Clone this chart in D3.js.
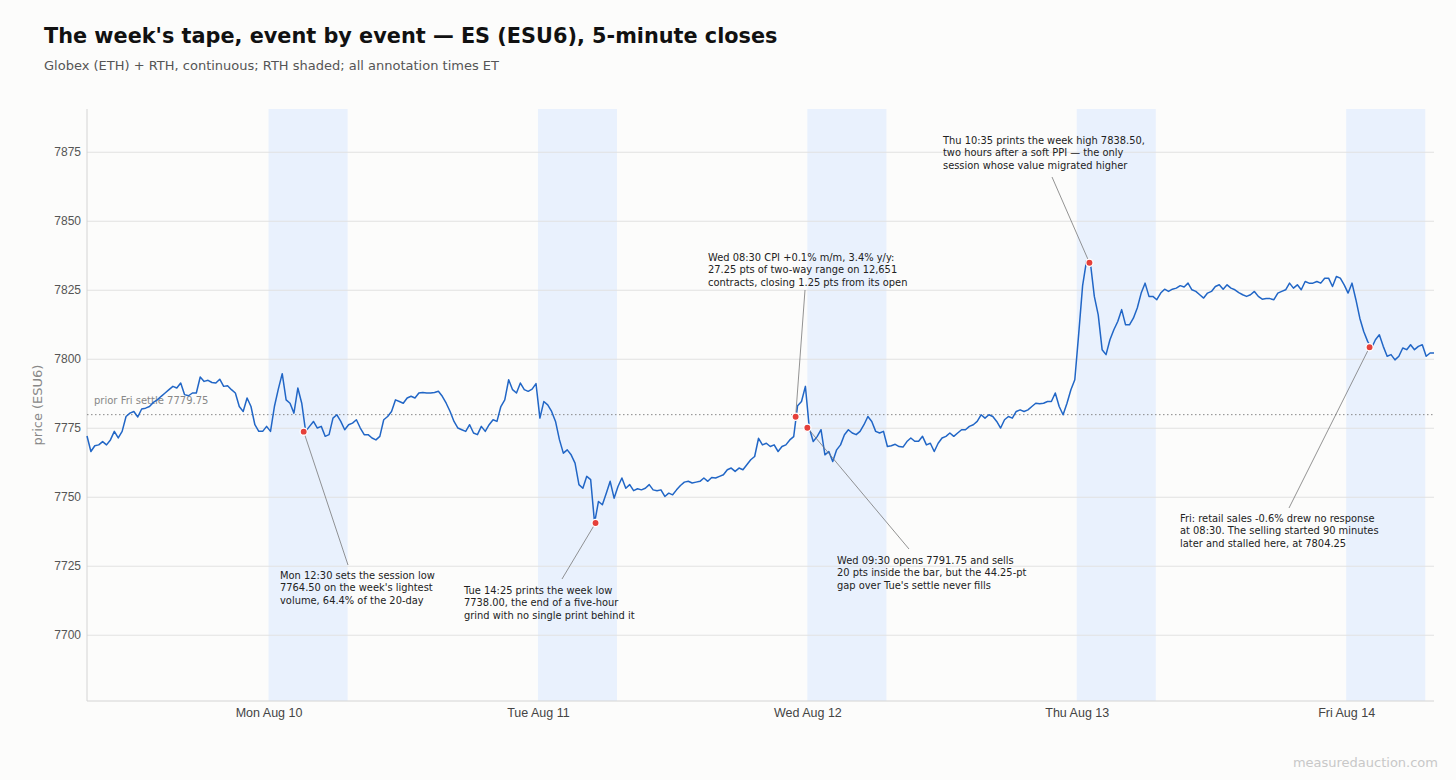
<!DOCTYPE html>
<html>
<head>
<meta charset="utf-8">
<script src="https://cdn.jsdelivr.net/npm/d3@7"></script>
<style>
  body { margin: 0; background: #fcfcfb; font-family: "DejaVu Sans", sans-serif; }
</style>
</head>
<body>
<div id="chart"></div>
<script>
const closes = [
  7772.0, 7766.4, 7768.5, 7768.8, 7770.0, 7768.8, 7770.6, 7773.7, 7771.3, 7773.7,
  7779.1, 7780.3, 7780.9, 7778.9, 7781.8, 7782.1, 7782.7, 7784.2, 7785.1, 7786.4,
  7787.6, 7788.8, 7790.0, 7789.4, 7791.2, 7787.0, 7786.6, 7787.6, 7787.6, 7793.4,
  7791.8, 7792.2, 7791.4, 7791.2, 7792.6, 7790.0, 7790.2, 7788.8, 7787.6, 7782.7,
  7780.9, 7785.8, 7782.7, 7776.1, 7773.7, 7773.7, 7775.5, 7773.7, 7782.7, 7789.0,
  7794.6, 7785.1, 7783.9, 7780.3, 7789.4, 7783.9, 7773.7, 7775.5, 7777.3, 7774.9,
  7775.5, 7771.9, 7772.5, 7778.5, 7779.7, 7777.3, 7774.3, 7776.1, 7776.7, 7777.9,
  7774.9, 7772.5, 7772.5, 7771.3, 7770.6, 7771.9, 7777.9, 7779.1, 7780.9, 7785.1,
  7784.5, 7783.9, 7785.8, 7786.4, 7785.8, 7787.6, 7787.8, 7787.6, 7787.6, 7787.8,
  7788.2, 7786.4, 7783.9, 7780.9, 7777.3, 7774.9, 7774.3, 7773.7, 7776.1, 7773.1,
  7772.5, 7775.5, 7773.7, 7776.1, 7777.9, 7777.3, 7782.7, 7785.1, 7792.4, 7788.8,
  7787.6, 7791.2, 7788.8, 7788.2, 7789.0, 7791.0, 7778.5, 7784.5, 7783.3, 7780.9,
  7777.3, 7770.7, 7765.8, 7767.0, 7765.2, 7762.2, 7754.4, 7753.1, 7757.4, 7756.2,
  7740.5, 7748.3, 7747.1, 7751.3, 7755.6, 7749.5, 7753.7, 7756.8, 7753.1, 7754.4,
  7752.2, 7752.9, 7752.5, 7753.1, 7754.4, 7752.5, 7752.2, 7752.5, 7750.1, 7751.3,
  7750.7, 7752.5, 7754.1, 7755.3, 7755.6, 7755.0, 7755.3, 7755.6, 7756.8, 7755.6,
  7757.0, 7756.8, 7757.4, 7758.0, 7759.8, 7760.4, 7759.2, 7760.4, 7759.8, 7761.6,
  7763.4, 7764.6, 7771.2, 7768.8, 7769.4, 7768.2, 7768.8, 7766.4, 7768.2, 7768.8,
  7770.6, 7771.8, 7783.0, 7784.5, 7790.0, 7774.9, 7770.0, 7771.8, 7774.3, 7765.2,
  7766.4, 7762.8, 7767.0, 7768.8, 7772.5, 7774.3, 7773.1, 7772.5, 7773.7, 7776.1,
  7779.1, 7777.3, 7773.7, 7773.1, 7773.7, 7768.2, 7768.5, 7769.0, 7768.2, 7768.0,
  7770.0, 7771.3, 7770.1, 7770.1, 7771.9, 7768.8, 7769.4, 7766.4, 7769.4, 7771.3,
  7771.9, 7773.1, 7771.9, 7773.1, 7774.3, 7774.3, 7775.5, 7776.1, 7777.3, 7779.7,
  7778.5, 7779.7, 7779.1, 7777.3, 7774.9, 7777.9, 7779.1, 7778.5, 7780.9, 7781.5,
  7780.9, 7781.5, 7782.7, 7783.9, 7783.7, 7783.9, 7784.5, 7784.5, 7787.6, 7782.7,
  7779.7, 7783.9, 7788.8, 7792.4, 7809.0, 7826.5, 7835.5, 7834.7, 7822.6, 7815.9,
  7803.3, 7801.5, 7806.9, 7810.5, 7813.5, 7817.8, 7812.3, 7812.3, 7814.7, 7818.4,
  7823.8, 7827.4, 7822.6, 7822.6, 7821.4, 7823.8, 7825.2, 7824.4, 7825.2, 7825.6,
  7826.5, 7826.0, 7827.4, 7825.0, 7824.4, 7823.2, 7822.0, 7823.8, 7824.4, 7826.2,
  7826.8, 7825.2, 7826.8, 7825.6, 7825.0, 7824.0, 7823.2, 7822.6, 7823.2, 7824.4,
  7822.6, 7821.6, 7821.8, 7821.8, 7821.4, 7823.8, 7824.4, 7825.0, 7827.4, 7825.6,
  7826.8, 7825.0, 7828.0, 7827.4, 7827.4, 7828.0, 7827.4, 7829.2, 7829.2, 7826.2,
  7829.8, 7829.2, 7826.8, 7823.8, 7827.4, 7821.4, 7814.7, 7809.9, 7806.3, 7803.9,
  7806.9, 7808.7, 7804.5, 7800.9, 7801.5, 7799.6, 7800.9, 7803.9, 7803.3, 7805.1,
  7803.3, 7804.5, 7805.1, 7800.9, 7802.1, 7802.1
];
const stepMinutes = 20;

const dayLabels = ["Mon Aug 10", "Tue Aug 11", "Wed Aug 12", "Thu Aug 13", "Fri Aug 14"];
const yTicks = [7700, 7725, 7750, 7775, 7800, 7825, 7850, 7875];
const priorSettle = 7779.75;

const noteDays = [0, 1, 2, 2, 3, 4];
const noteClock = ["12:30", "14:25", "08:30", "09:30", "10:35", "11:30"];
const notePrices = [7773.6, 7740.5, 7779.0, 7775.0, 7834.8, 7804.2];
const noteTexts = [
  ["Mon 12:30 sets the session low", "7764.50 on the week's lightest", "volume, 64.4% of the 20-day"],
  ["Tue 14:25 prints the week low", "7738.00, the end of a five-hour", "grind with no single print behind it"],
  ["Wed 08:30 CPI +0.1% m/m, 3.4% y/y:", "27.25 pts of two-way range on 12,651", "contracts, closing 1.25 pts from its open"],
  ["Wed 09:30 opens 7791.75 and sells", "20 pts inside the bar, but the 44.25-pt", "gap over Tue's settle never fills"],
  ["Thu 10:35 prints the week high 7838.50,", "two hours after a soft PPI \u2014 the only", "session whose value migrated higher"],
  ["Fri: retail sales -0.6% drew no response", "at 08:30. The selling started 90 minutes", "later and stalled here, at 7804.25"]
];

// label placement (page pixels): text origin and where the leader line ends
const noteLabelPos = [[280, 578.5], [464, 593.5], [708, 260.5], [837, 563.5], [943, 143.5], [1180, 521.5]];
const noteLeaderEnd = [[348, 565], [562, 579], [805, 290], [909, 549], [1052, 177], [1289, 508]];

const W = 1456, H = 780;
const margin = {top: 109, right: 22, bottom: 79, left: 87};
const innerW = W - margin.left - margin.right, innerH = H - margin.top - margin.bottom;

// trading-time axis: hours since Sun 18:00, 23 trading hours per day
const openHour = 15.5, sessionHours = 23, totalHours = 115;
function hourOf(day, clock) {
  let [h, m] = clock.split(":").map(Number);
  return openHour + day * sessionHours + (h + m / 60 - 9.5);
}

const series = closes.map((p, i) => ({h: i * stepMinutes / 60, p: p}));

const svg = d3.select("#chart").append("svg")
  .attr("width", W)
  .attr("height", H)
  .style("font-family", "'DejaVu Sans', sans-serif");

svg.append("rect").attr("width", W).attr("height", H).attr("fill", "#fcfcfb");

let x = d3.scaleLinear().domain([0, totalHours]).range([margin.left, margin.left + innerW]);
let y = d3.scaleLinear().domain([7676, 7890.5]).range([margin.top + innerH, margin.top]);

// RTH shading 09:30-16:15
svg.append("g").selectAll("rect")
  .data(dayLabels)
  .enter().append("rect")
  .attr("x", (d, i) => x(hourOf(i, "09:30")))
  .attr("y", margin.top)
  .attr("width", (d, i) => x(hourOf(i, "16:15")) - x(hourOf(i, "09:30")))
  .attr("height", innerH)
  .attr("fill", "#e9f1fd");

// gridlines + y labels
let yAxis = svg.append("g")
  .attr("transform", `translate(${margin.left},0)`)
  .call(d3.axisLeft(y).tickValues(yTicks).tickSize(-innerW).tickPadding(6).tickFormat(d3.format("d")));
yAxis.select(".domain").remove();
yAxis.selectAll(".tick line").attr("stroke", "#e2e2e2");
yAxis.selectAll(".tick text").attr("fill", "#555").style("font-size", "12px");

// x labels at each RTH open
let xAxis = svg.append("g")
  .attr("transform", `translate(0,${margin.top + innerH})`)
  .call(d3.axisBottom(x)
    .tickValues(dayLabels.map((d, i) => hourOf(i, "09:30")))
    .tickFormat((d, i) => dayLabels[i])
    .tickSize(0).tickPadding(7));
xAxis.select(".domain").remove();
xAxis.selectAll(".tick text").attr("fill", "#444").style("font-size", "12.5px");

// spines
svg.append("line")
  .attr("x1", margin.left).attr("x2", margin.left)
  .attr("y1", margin.top).attr("y2", margin.top + innerH)
  .attr("stroke", "#d4d4d4");
svg.append("line")
  .attr("x1", margin.left).attr("x2", margin.left + innerW)
  .attr("y1", margin.top + innerH).attr("y2", margin.top + innerH)
  .attr("stroke", "#d4d4d4");

// prior settle reference
svg.append("line")
  .attr("x1", margin.left).attr("x2", margin.left + innerW)
  .attr("y1", y(priorSettle)).attr("y2", y(priorSettle))
  .attr("stroke", "#888")
  .attr("stroke-width", 1)
  .attr("stroke-dasharray", "1.5,2.5");
svg.append("text")
  .attr("x", margin.left + 7)
  .attr("y", y(priorSettle) - 11)
  .attr("fill", "#888")
  .style("font-size", "10px")
  .text("prior Fri settle " + d3.format(".2f")(priorSettle));

// price line
svg.append("path")
  .datum(series)
  .attr("fill", "none")
  .attr("stroke", "#2166c6")
  .attr("stroke-width", 1.5)
  .attr("stroke-linejoin", "round")
  .attr("d", d3.line().x(d => x(d.h)).y(d => y(d.p)));

// annotations
noteTexts.forEach(function(lines, i) {
  let px = x(hourOf(noteDays[i], noteClock[i])), py = y(notePrices[i]);
  svg.append("line")
    .attr("x1", px).attr("y1", py)
    .attr("x2", noteLeaderEnd[i][0]).attr("y2", noteLeaderEnd[i][1])
    .attr("stroke", "#777")
    .attr("stroke-width", 0.8);
  svg.append("circle")
    .attr("cx", px).attr("cy", py).attr("r", 3.6)
    .attr("fill", "#e5403a")
    .attr("stroke", "#fff")
    .attr("stroke-width", 1.3);
  let t = svg.append("text")
    .attr("x", noteLabelPos[i][0])
    .attr("y", noteLabelPos[i][1])
    .attr("fill", "#222")
    .style("font-size", "9.9px");
  lines.forEach(function(l, k) {
    t.append("tspan")
      .attr("x", noteLabelPos[i][0])
      .attr("dy", k === 0 ? 0 : 12.7)
      .text(l);
  });
});

// titles
svg.append("text")
  .attr("x", 44).attr("y", 43)
  .attr("fill", "#111")
  .style("font-size", "20.8px")
  .style("font-weight", "bold")
  .text("The week's tape, event by event \u2014 ES (ESU6), 5-minute closes");

svg.append("text")
  .attr("x", 44).attr("y", 69.5)
  .attr("fill", "#555")
  .style("font-size", "13px")
  .text("Globex (ETH) + RTH, continuous; RTH shaded; all annotation times ET");

svg.append("text")
  .attr("transform", `translate(42, ${margin.top + innerH / 2}) rotate(-90)`)
  .style("text-anchor", "middle")
  .attr("fill", "#888")
  .style("font-size", "13px")
  .text("price (ESU6)");

svg.append("text")
  .attr("x", 1438).attr("y", 767)
  .style("text-anchor", "end")
  .attr("fill", "#c8c8c8")
  .style("font-size", "13px")
  .text("measuredauction.com");
</script>
</body>
</html>
